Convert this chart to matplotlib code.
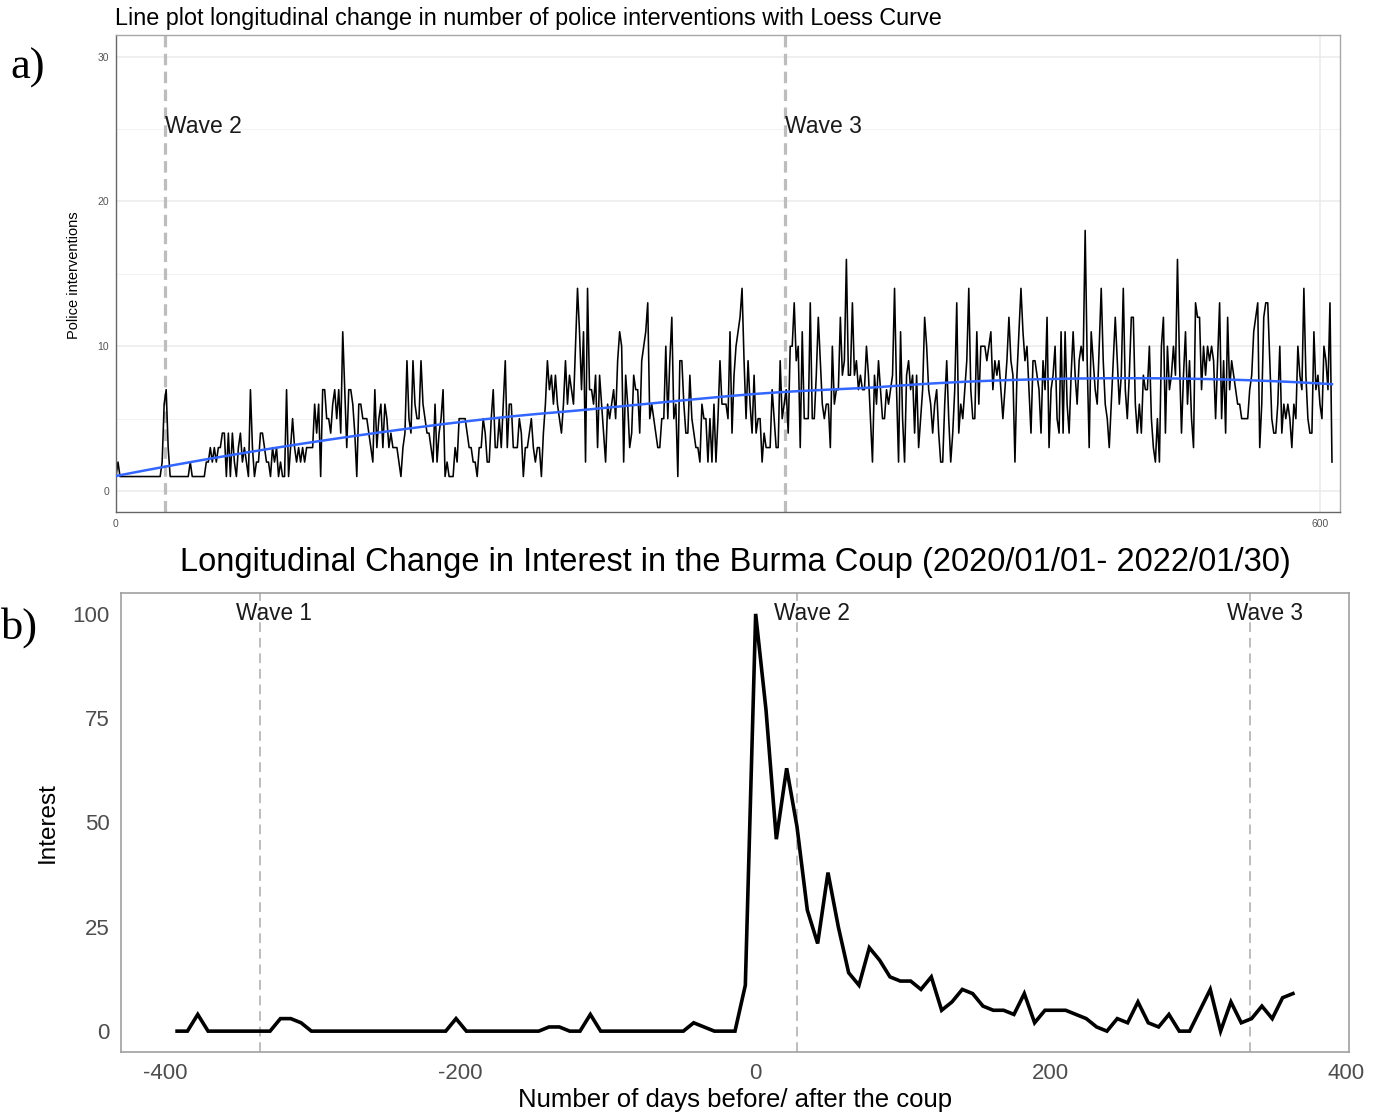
import numpy as np
import matplotlib
matplotlib.use("Agg")
import matplotlib.pyplot as plt

plt.rcParams["axes.unicode_minus"] = False

# ---------------- data: panel a (daily police interventions) ----------------
police_0 = [1, 2, 1, 1, 1, 1, 1, 1, 1, 1, 1, 1, 1, 1, 1, 1, 1, 1, 1, 1, 1, 1,
            1, 2, 6, 7, 3, 1, 1, 1, 1, 1, 1, 1, 1, 1, 1, 2, 1, 1, 1, 1, 1, 1]
police_1 = [1, 2, 2, 3, 2, 3, 2, 3, 3, 4, 4, 1, 4, 1, 4, 2, 1, 3, 4, 2, 3, 2,
            1, 7, 3, 1, 2, 2, 4, 4, 3, 2, 2, 1, 3, 2, 3, 1, 2, 1, 1, 7, 1]
police_2 = [3, 5, 3, 2, 3, 2, 3, 2, 3, 3, 3, 3, 6, 4, 6, 1, 7, 7, 5, 5,
            4, 6, 7, 5, 7, 4, 11, 7, 3, 7, 7, 6, 4, 1, 6, 6, 5, 5, 5, 4,
            3, 2, 7, 3, 5, 6, 3, 6, 5, 3, 4, 3, 3, 3, 2, 1, 3, 4, 9, 5,
            4, 9, 6, 5, 5, 9, 6, 5, 4, 4, 3, 2, 6, 2, 4, 5, 7, 1, 2, 1,
            1, 1, 3, 2, 5, 5]
police_3 = [5, 5, 4, 3, 3, 2, 2, 1, 3, 3, 5, 4, 2, 2, 5, 7, 3, 3, 5, 3,
            6, 9, 3, 6, 6, 3, 3, 3, 5, 4, 1, 3, 3, 4, 5, 3, 2, 3, 3, 1,
            4, 6, 9, 7, 8, 6, 8, 6, 5, 4, 6, 9, 6, 8, 7, 6, 10, 14, 11, 7,
            11, 2, 14, 7, 7, 6, 8, 3, 8, 6, 4, 2, 6, 5, 6, 7, 5, 9, 11, 10,
            2, 8, 6, 3, 4, 8, 7]
police_4 = [7, 4, 9, 10, 11, 13, 5, 6, 5, 4, 3, 3, 5, 5, 10, 5, 9, 12, 5, 6,
            1, 9, 9, 6, 4, 4, 8, 5, 4, 3, 3, 2, 6, 5, 5, 2, 5, 2, 6, 2,
            5, 9, 6, 6, 6, 5, 11, 4, 8, 10, 11, 12, 14, 9, 5, 9, 6, 4, 8, 4,
            5, 5, 2, 4, 3, 3, 3, 7, 5, 3, 3, 9, 5, 6, 7, 4, 10, 10, 13, 9,
            10, 3, 11, 5]
police_5 = [5, 5, 13, 5, 5, 8, 12, 9, 6, 5, 6, 6, 3, 10, 6, 7, 7, 12, 8, 9,
            16, 8, 8, 13, 8, 9, 7, 8, 7, 7, 10, 8, 5, 2, 8, 6, 9, 7, 5, 5,
            7, 6, 7, 8, 14, 7, 2, 11, 5, 2, 8, 9, 7, 8, 4, 8, 3, 5, 7, 12,
            10, 7, 6, 4, 6, 7, 4, 2, 2, 6, 9, 5, 2, 4, 7, 13, 4, 6, 5, 7,
            9, 14, 7, 5, 5, 11, 6, 10]
police_6 = [10, 10, 9, 10, 11, 7, 9, 8, 9, 7, 5, 7, 9, 12, 9, 8, 2, 8, 11, 14,
            11, 9, 10, 7, 4, 9, 9, 8, 7, 4, 9, 7, 12, 3, 7, 8, 10, 5, 4, 11,
            4, 11, 6, 4, 8, 11, 8, 6, 9, 10, 9, 18, 9, 3, 11, 9, 7, 6, 10, 14,
            9, 6, 5, 3, 6, 9, 12, 9, 6, 8, 14, 7, 5, 8, 12, 12, 6, 4, 6, 4,
            8, 7, 7, 10, 5, 3, 2]
police_7 = [5, 2, 10, 12, 4, 10, 7, 8, 10, 8, 16, 9, 4, 8, 11, 6, 9, 5, 3, 13,
            12, 12, 7, 10, 8, 10, 9, 10, 9, 5, 9, 13, 5, 9, 4, 12, 7, 9, 8, 7,
            6, 6, 5, 5, 5, 5, 7, 8, 11, 12, 13, 3, 6, 12, 13, 13, 9, 5, 4, 4,
            6, 10, 4, 6, 5, 6, 5, 3, 6, 5, 10, 8, 7, 14, 8, 5, 4, 4, 11, 7,
            8, 6, 5, 10, 9, 7, 13, 2]
police = police_0 + police_1 + police_2 + police_3 + police_4 + police_5 + police_6 + police_7
waves_a = [24.5, 333.4]
wave_labels_a = ["Wave 2", "Wave 3"]

# ---------------- data: panel b (weekly interest) ----------------
interest_days_start = -392
interest = [0, 0, 4, 0, 0, 0, 0, 0, 0, 0,
            3, 3, 2, 0, 0, 0, 0, 0, 0, 0,
            0, 0, 0, 0, 0, 0, 0, 3, 0, 0,
            0, 0, 0, 0, 0, 0, 1, 1, 0, 0,
            4, 0, 0, 0, 0, 0, 0, 0, 0, 0,
            2, 1, 0, 0, 0, 11, 100, 77, 46, 63,
            49, 29, 21, 38, 25, 14, 11, 20, 17, 13,
            12, 12, 10, 13, 5, 7, 10, 9, 6, 5,
            5, 4, 9, 2, 5, 5, 5, 4, 3, 1,
            0, 3, 2, 7, 2, 1, 4, 0, 0, 5,
            10, 0, 7, 2, 3, 6, 3, 8, 9]
waves_b = [-336, 28, 335]
wave_labels_b = ["Wave 1", "Wave 2", "Wave 3"]


def loess(x, y, xs, span=0.75):
    x = np.asarray(x, float)
    y = np.asarray(y, float)
    n = len(x)
    q = int(np.floor(n * span))
    out = []
    for x0 in xs:
        d = np.abs(x - x0)
        h = np.sort(d)[q - 1]
        w = np.clip(1 - (d / h) ** 3, 0, None) ** 3
        X = np.vstack([np.ones(n), x - x0, (x - x0) ** 2]).T
        WX = X * w[:, None]
        beta = np.linalg.solve(X.T @ WX, WX.T @ y)
        out.append(beta[0])
    return np.array(out)


W, H = 1377, 1112
fig = plt.figure(figsize=(W / 100, H / 100), dpi=100)


def box(l, t, r, b):
    return [l / W, 1 - b / H, (r - l) / W, (b - t) / H]


sans = ["Liberation Sans", "DejaVu Sans"]
serif = ["Liberation Serif", "DejaVu Serif"]

# ---------------- panel a ----------------
axa = fig.add_axes(box(116, 35, 1340, 512))
xa = np.arange(len(police))
axa.set_xlim(0, 610)
axa.set_ylim(-1.45, 31.5)
for yv in [5, 15, 25]:
    axa.axhline(yv, color="#F2F2F2", lw=0.7, zorder=0)
for yv in [0, 10, 20, 30]:
    axa.axhline(yv, color="#EBEBEB", lw=1.1, zorder=0)
axa.axvline(600, color="#EBEBEB", lw=1.1, zorder=0)
for wv in waves_a:
    axa.axvline(wv, color="#BDBDBD", lw=2.3, linestyle=(0, (3.6, 2.0)), zorder=1)
axa.plot(xa, police, color="black", lw=1.15, zorder=2)
xs = np.linspace(0, len(police) - 1, 80)
axa.plot(xs, loess(xa, police, xs), color="#3366FF", lw=1.8, zorder=3)
for wv, lab in zip(waves_a, wave_labels_a):
    axa.text(wv, 25.2, lab, fontsize=16.5, family=sans, ha="left", va="center", color="#1a1a1a")
axa.set_xticks([0, 600])
axa.set_yticks([0, 10, 20, 30])
axa.tick_params(length=0, labelsize=7.5, labelcolor="#555555", pad=5)
for lab in axa.get_xticklabels() + axa.get_yticklabels():
    lab.set_family(sans)
for s in ["left", "bottom"]:
    axa.spines[s].set_color("#666666")
    axa.spines[s].set_linewidth(1.0)
for s in ["top", "right"]:
    axa.spines[s].set_color("#A8A8A8")
    axa.spines[s].set_linewidth(1.0)
fig.text(74 / W, 1 - 275 / H, "Police interventions", rotation=90, fontsize=10.5,
         family=sans, ha="center", va="center", color="black")
fig.text(115 / W, 1 - 18 / H, "Line plot longitudinal change in number of police interventions with Loess Curve",
         fontsize=16.8, family=sans, ha="left", va="center", color="black")
fig.text(10 / W, 1 - 68 / H, "a)", fontsize=32, family=serif, ha="left", va="center")

# ---------------- panel b ----------------
axb = fig.add_axes(box(121, 593, 1349, 1052))
xb = interest_days_start + 7 * np.arange(len(interest))
axb.set_xlim(-430, 402)
axb.set_ylim(-5, 105)
for wv in waves_b:
    axb.axvline(wv, color="#BDBDBD", lw=1.4, linestyle=(0, (5, 3)), zorder=1)
axb.plot(xb, interest, color="black", lw=2.6, zorder=2, solid_joinstyle="miter")
for wv, lab in zip(waves_b, wave_labels_b):
    axb.text(wv + 10, 100, lab, fontsize=16.3, family=sans, ha="center", va="center", color="#1a1a1a")
axb.set_xticks([-400, -200, 0, 200, 400])
axb.set_yticks([0, 25, 50, 75, 100])
axb.tick_params(length=0, labelsize=16, labelcolor="#4D4D4D", pad=8)
for lab in axb.get_xticklabels() + axb.get_yticklabels():
    lab.set_family(sans)
for s in axb.spines.values():
    s.set_color("#A0A0A0")
    s.set_linewidth(1.2)
axb.set_xlabel("Number of days before/ after the coup", fontsize=18.5, family=sans, labelpad=3)
axb.set_ylabel("Interest", fontsize=17.5, family=sans, labelpad=10)
fig.text(735 / W, 1 - 562 / H, "Longitudinal Change in Interest in the Burma Coup (2020/01/01- 2022/01/30)",
         fontsize=23.5, family=sans, ha="center", va="center", color="black")
fig.text(1 / W, 1 - 628 / H, "b)", fontsize=32, family=serif, ha="left", va="center")

fig.savefig("out.png", dpi=100)
